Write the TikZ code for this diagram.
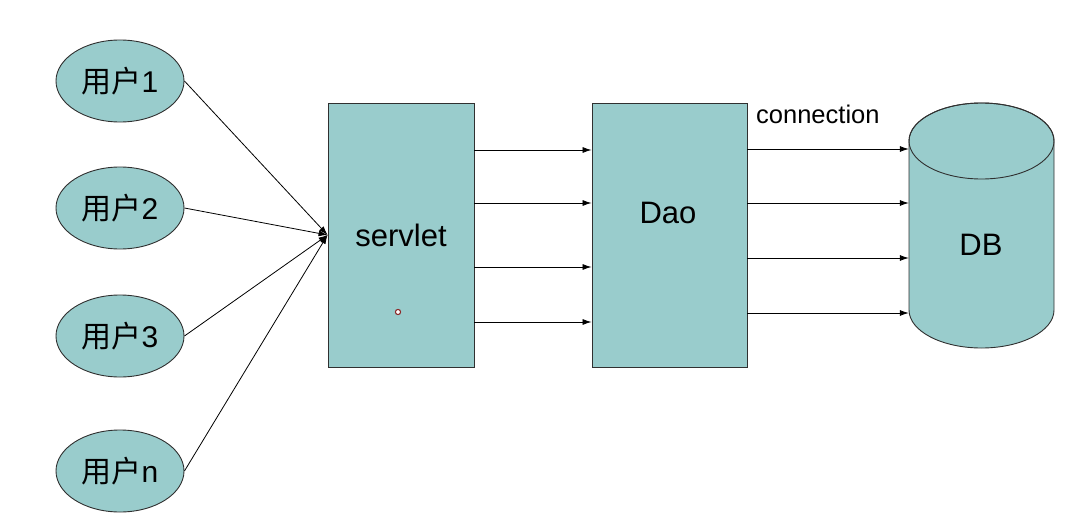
\documentclass[tikz,border=0pt]{standalone}
\usepackage{fontspec}
\setmainfont{Liberation Sans}
\newfontfamily\cjk{Noto Sans CJK SC}
\usetikzlibrary{arrows.meta,shapes.geometric}
\definecolor{tealfill}{HTML}{99CCCC}
\definecolor{edgegray}{HTML}{303030}
\definecolor{markred}{HTML}{8B2A2A}
\tikzset{
  user/.style={ellipse,draw=edgegray,fill=tealfill,line width=0.9pt,
    minimum width=128pt,minimum height=82pt,inner sep=0pt,font=\fontsize{30}{34}\selectfont},
  tier/.style={rectangle,draw=edgegray,fill=tealfill,line width=0.9pt,
    minimum height=264pt,inner sep=0pt},
  biglabel/.style={font=\fontsize{31}{35}\selectfont,inner sep=0pt},
  link/.style={draw=black,line width=0.8pt,-{Latex[length=9pt,width=6pt]}},
}
\begin{document}
\begin{tikzpicture}[x=1pt,y=-1pt]
  \useasboundingbox (0,0) rectangle (1091,532);

  % users
  \node[user] (u1) at (120,81)  {{\cjk 用户}1};
  \node[user] (u2) at (120,208) {{\cjk 用户}2};
  \node[user] (u3) at (120,336) {{\cjk 用户}3};
  \node[user] (un) at (120,471) {{\cjk 用户}n};

  % servlet and dao tiers
  \node[tier,minimum width=146pt] (servlet) at (401,235) {};
  \node[biglabel] (servletlabel) at (401,235) {servlet};
  \node[tier,minimum width=155pt] (dao) at (669.5,235) {};
  \node[biglabel] (daolabel) at (668,213) {Dao};

  % small marker inside the servlet box
  \draw[markred,line width=1.1pt,fill=white] (398,312) circle (2.6pt);

  % database cylinder
  \path[fill=tealfill,draw=edgegray,line width=0.9pt]
    (909,141) -- (909,310)
    arc[start angle=180,end angle=0,x radius=72.5,y radius=38]
    -- (1054,141)
    arc[start angle=0,end angle=-180,x radius=72.5,y radius=38] -- cycle;
  \draw[edgegray,line width=0.9pt] (981.5,141) ellipse[x radius=72.5,y radius=38];
  \node[inner sep=0pt,minimum width=145pt,minimum height=169pt] (db) at (981.5,225.5) {};
  \node[biglabel] (dblabel) at (981,245) {DB};

  \node[font=\fontsize{25.5}{29}\selectfont,anchor=west,inner sep=0pt] (conn) at (756,114) {connection};

  % users to servlet
  \foreach \u in {u1,u2,u3,un}
    \draw[link] (\u.east) -- (servlet.west);

  % servlet to dao
  \foreach \yy in {150,203,267,322}
    \draw[link] (servlet.east |- 0,\yy) -- (dao.west |- 0,\yy);

  % dao to database
  \foreach \yy in {149,203,258,313}
    \draw[link] (dao.east |- 0,\yy) -- (db.west |- 0,\yy);
\end{tikzpicture}
\end{document}
